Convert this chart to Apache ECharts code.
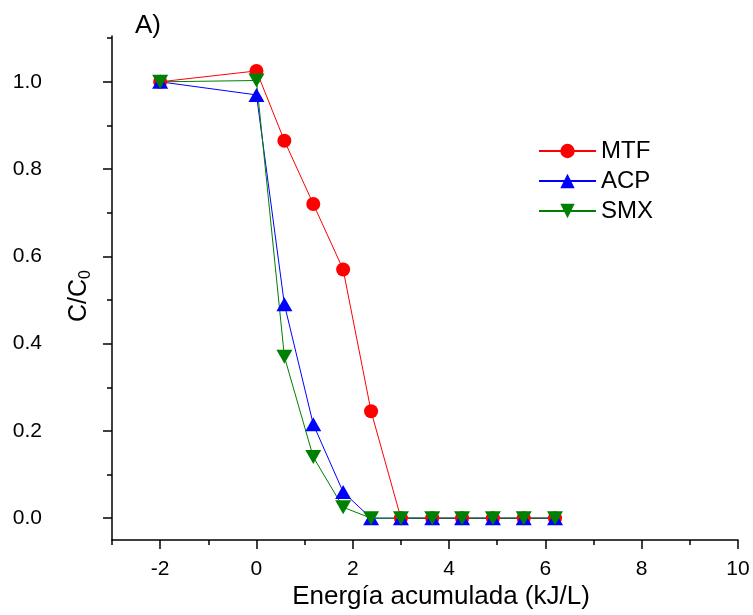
<!DOCTYPE html>
<html>
<head>
<meta charset="utf-8">
<script src="https://cdn.jsdelivr.net/npm/echarts@6/dist/echarts.min.js"></script>
<style>html,body{margin:0;padding:0;background:#fff;}#c{width:753px;height:615px;}</style>
</head>
<body>
<div id="c"></div>
<script>
const energy = [-2, 0, 0.58, 1.18, 1.8, 2.38, 3.0, 3.65, 4.27, 4.91, 5.55, 6.2];
const mtf = [1.0, 1.025, 0.865, 0.72, 0.57, 0.245, 0, 0, 0, 0, 0, 0];
const acp = [1.0, 0.97, 0.49, 0.215, 0.06, 0, 0, 0, 0, 0, 0, 0];
const smx = [1.0, 1.003, 0.37, 0.14, 0.025, 0, 0, 0, 0, 0, 0, 0];
const xMajorTicks = [-2, 0, 2, 4, 6, 8, 10];
const xMinorTicks = [-3, -1, 1, 3, 5, 7, 9];
const yMajorTicks = [0, 0.2, 0.4, 0.6, 0.8, 1.0];
const yMinorTicks = [0.1, 0.3, 0.5, 0.7, 0.9, 1.1];

const FONT = 'Liberation Sans, Arial, sans-serif';
const pairs = arr => energy.map((x, i) => [x, arr[i]]);

const chart = echarts.init(document.getElementById('c'), null, {renderer: 'canvas'});
const axisLine = {show: true, onZero: false, lineStyle: {color: '#000', width: 1.5}};
chart.setOption({
  animation: false,
  backgroundColor: '#fff',
  grid: {left: 112, right: 15, top: 36, bottom: 71, containLabel: false},
  xAxis: [{
    type: 'value', min: -3, max: 10,
    axisLine: axisLine,
    splitLine: {show: false},
    axisTick: {show: true, length: 9, lineStyle: {color: '#000', width: 1.5}, customValues: xMajorTicks},
    axisLabel: {show: true, customValues: xMajorTicks, color: '#000', fontFamily: FONT, fontSize: 21, margin: 19},
    name: 'Energía acumulada (kJ/L)', nameLocation: 'middle', nameGap: 44, nameMoveOverlap: false,
    nameTextStyle: {color: '#000', fontFamily: FONT, fontSize: 26, padding: [0, 0, 0, 32]}
  }, {
    type: 'value', min: -3, max: 10, position: 'bottom',
    axisLine: {show: false, onZero: false}, splitLine: {show: false}, axisLabel: {show: false},
    axisTick: {show: true, length: 5, lineStyle: {color: '#000', width: 1.5}, customValues: xMinorTicks}
  }],
  yAxis: [{
    type: 'value', min: -0.05, max: 1.105,
    axisLine: axisLine,
    splitLine: {show: false},
    axisTick: {show: true, length: 9, lineStyle: {color: '#000', width: 1.5}, customValues: yMajorTicks},
    axisLabel: {show: true, customValues: yMajorTicks, color: '#000', fontFamily: FONT, fontSize: 21, margin: 70,
      formatter: v => v.toFixed(1)},
    name: '{a|C/C}{b|0}', nameLocation: 'middle', nameGap: 18, nameRotate: 90, nameMoveOverlap: false,
    nameTextStyle: {color: '#000', fontFamily: FONT, fontSize: 25, padding: [0, 16, 0, 0],
      rich: {a: {fontFamily: FONT, fontSize: 25, color: '#000'},
             b: {fontFamily: FONT, fontSize: 16, color: '#000', padding: [14, 0, 0, 0]}}}
  }, {
    type: 'value', min: -0.05, max: 1.105, position: 'left',
    axisLine: {show: false, onZero: false}, splitLine: {show: false}, axisLabel: {show: false},
    axisTick: {show: true, length: 5, lineStyle: {color: '#000', width: 1.5}, customValues: yMinorTicks}
  }],
  legend: {
    orient: 'vertical', left: 533, top: 134,
    itemWidth: 57, itemHeight: 18, itemGap: 6,
    textStyle: {color: '#000', fontFamily: FONT, fontSize: 24},
    data: ['MTF', 'ACP', 'SMX']
  },
  graphic: [{
    type: 'text', left: 135, top: 13,
    style: {text: 'A)', font: '26px Liberation Sans, Arial, sans-serif', fill: '#000'}
  }],
  series: [{
    name: 'MTF', type: 'line', data: pairs(mtf),
    symbol: 'circle', symbolSize: 14,
    lineStyle: {color: '#ff0000', width: 1}, itemStyle: {color: '#ff0000'}
  }, {
    name: 'ACP', type: 'line', data: pairs(acp),
    symbol: 'triangle', symbolSize: [16, 14],
    lineStyle: {color: '#0000ff', width: 1}, itemStyle: {color: '#0000ff'}
  }, {
    name: 'SMX', type: 'line', data: pairs(smx),
    symbol: 'triangle', symbolSize: [16, 14], symbolRotate: 180,
    lineStyle: {color: '#008000', width: 1}, itemStyle: {color: '#008000'}
  }]
});
</script>
</body>
</html>
